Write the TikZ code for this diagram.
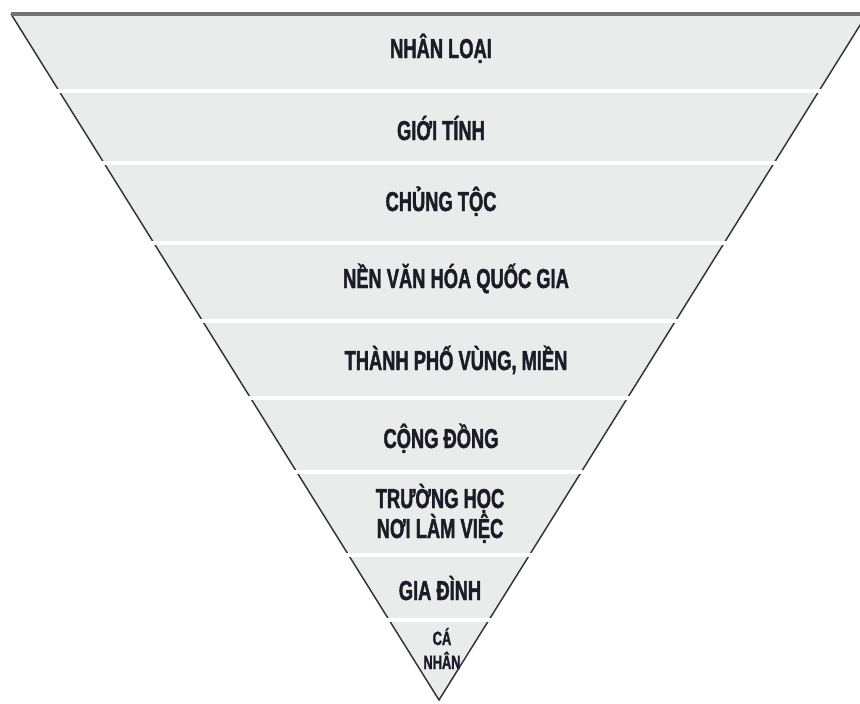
\documentclass[tikz,border=0pt]{standalone}
\usepackage{fontspec}
\setmainfont{Liberation Sans}
\newfontfamily\bandfont{Liberation Sans}[FakeStretch=0.67,WordSpace=1.0,FakeBold=1.5]
\definecolor{bandgray}{HTML}{EAEBEB}
\definecolor{inkdark}{HTML}{1C1C28}
\begin{document}
\begin{tikzpicture}[x=0.75pt, y=-0.75pt,
  lbl/.style={text=inkdark, anchor=base, align=center, inner sep=0pt,
    font=\bandfont\bfseries\fontsize{20.5}{22.5}\selectfont},
  smalllbl/.style={lbl, font=\bandfont\bfseries\fontsize{14.4}{18}\selectfont},
  gap/.style={white, line width=3.5pt}]
\useasboundingbox (0,0) rectangle (860,703);
\coordinate (tl) at (11,14);
\coordinate (tr) at (867,14);
\coordinate (apex) at (439,700);

% the funnel
\fill[bandgray] (tl) -- (tr) -- (apex) -- cycle;
\draw[line width=1.1pt, black!80] (tl) -- (apex) -- (tr);
\draw[line width=3pt, black!55] (tl) -- (tr);
\foreach \y in {91,163,243,321,398,472,555,620}
  \draw[gap] (0,\y) -- (860,\y);

% levels (base anchor = last line)
\node[lbl] (nhanloai) at (441,58) {NHÂN LOẠI};
\node[lbl] (gioitinh) at (441,140) {GIỚI TÍNH};
\node[lbl] (chungtoc) at (441,211) {CHỦNG TỘC};
\node[lbl] (nenvanhoa) at (456,288) {NỀN VĂN HÓA QUỐC GIA};
\node[lbl] (thanhpho) at (456,370) {THÀNH PHỐ VÙNG, MIỀN};
\node[lbl] (congdong) at (441,448) {CỘNG ĐỒNG};
\node[lbl] (truonghoc) at (440,538) {TRƯỜNG HỌC\\NƠI LÀM VIỆC};
\node[lbl] (giadinh) at (440,600) {GIA ĐÌNH};
\node[smalllbl] (canhan) at (442,669) {CÁ\\NHÂN};
\end{tikzpicture}
\end{document}
